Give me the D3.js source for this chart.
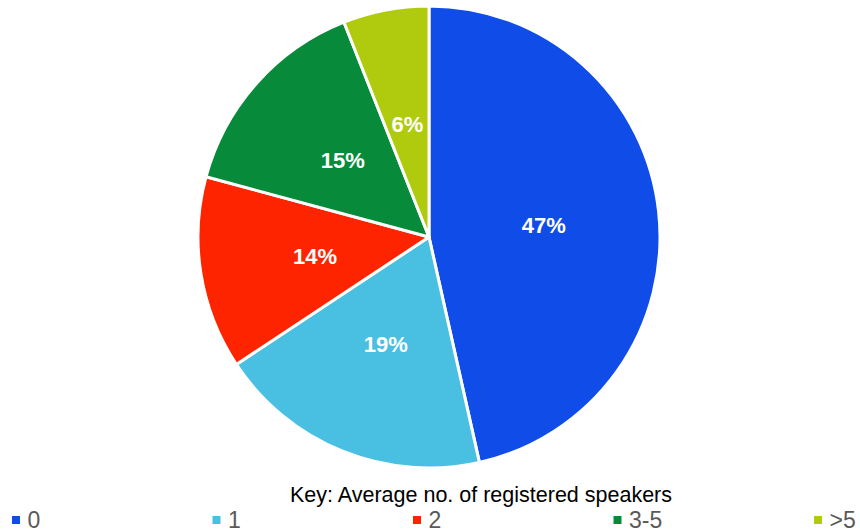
<!DOCTYPE html>
<html><head><meta charset="utf-8">
<script src="https://cdn.jsdelivr.net/npm/d3@7"></script>
<style>body{margin:0;background:#fff}svg{display:block}</style>
</head><body>
<svg id="c" width="860" height="531"></svg>
<script>
const categories = ["0", "1", "2", "3-5", ">5"];
const values = [46.5, 19.2, 13.5, 14.8, 6.0];
const labels = ["47%", "19%", "14%", "15%", "6%"];
const colors = ["#104DE8", "#49C0E2", "#FF2400", "#078B3A", "#B0CB0E"];
const legendTitle = "Key: Average no. of registered speakers";

const svg = d3.select("#c");
const cx = 429, cy = 237, r = 231;
const pie = d3.pie().sort(null).value(d => d)(values);
const arc = d3.arc().innerRadius(0).outerRadius(r);
const g = svg.append("g").attr("transform", `translate(${cx},${cy})`);
g.selectAll("path").data(pie).join("path")
  .attr("d", arc).attr("fill", (d, i) => colors[i])
  .attr("stroke", "#fff").attr("stroke-width", 3).attr("stroke-linejoin", "round");
g.selectAll("text").data(pie).join("text")
  .attr("transform", d => `translate(${arc.centroid(d)})`)
  .attr("text-anchor", "middle").attr("dy", "0.38em")
  .attr("font-family", "Liberation Sans, Arial, sans-serif")
  .attr("font-weight", "bold").attr("font-size", 22).attr("fill", "#fff")
  .text((d, i) => labels[i]);

svg.append("text").attr("x", 481).attr("y", 501.5).attr("text-anchor", "middle")
  .attr("font-family", "Liberation Sans, Arial, sans-serif").attr("font-size", 21.5)
  .attr("fill", "#000").text(legendTitle);

const lx = d3.scalePoint().domain(categories).range([12, 814]);
const leg = svg.selectAll("g.leg").data(categories).join("g").attr("class", "leg")
  .attr("transform", d => `translate(${lx(d)},0)`);
leg.append("rect").attr("x", 0).attr("y", 516).attr("width", 8).attr("height", 8)
  .attr("fill", (d, i) => colors[i]);
leg.append("text").attr("x", 15.5).attr("y", 528)
  .attr("font-family", "Liberation Sans, Arial, sans-serif").attr("font-size", 23)
  .attr("fill", "#595959").text(d => d);
</script>
</body></html>
